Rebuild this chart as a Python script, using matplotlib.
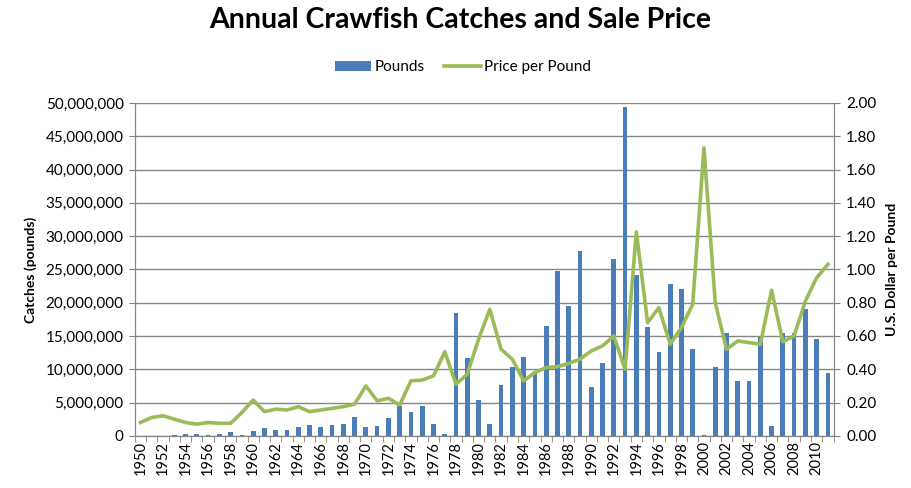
import matplotlib.pyplot as plt
import matplotlib.ticker as mticker
import numpy as np

years = list(range(1950, 2012))

# catches in millions of pounds
pounds_m = [0.0, 0.0, 0.0, 0.05, 0.25, 0.25, 0.05, 0.3, 0.6, 0.05,
            0.7, 1.1, 0.8, 0.9, 1.3, 1.6, 1.3, 1.6, 1.8, 2.8,
            1.3, 1.5, 2.6, 4.4, 3.5, 4.4, 1.8, 0.3, 18.4, 11.7,
            5.4, 1.8, 7.6, 10.4, 11.9, 9.8, 16.5, 24.7, 19.5, 27.8,
            7.4, 10.9, 26.6, 49.4, 24.1, 16.3, 12.6, 22.8, 22.0, 13.1,
            0.1, 10.4, 15.5, 8.3, 8.3, 14.9, 1.5, 15.4, 15.5, 19.0,
            14.5, 9.5]

price = [0.08, 0.11, 0.12, 0.10, 0.08, 0.07, 0.08, 0.075, 0.075, 0.14,
         0.215, 0.145, 0.16, 0.155, 0.175, 0.145, 0.155, 0.165, 0.175, 0.19,
         0.30, 0.21, 0.225, 0.185, 0.33, 0.335, 0.36, 0.505, 0.31, 0.37,
         0.58, 0.76, 0.52, 0.46, 0.33, 0.38, 0.41, 0.415, 0.435, 0.46,
         0.51, 0.54, 0.60, 0.40, 1.225, 0.68, 0.77, 0.55, 0.65, 0.79,
         1.73, 0.80, 0.52, 0.57, 0.56, 0.55, 0.875, 0.565, 0.60, 0.81,
         0.95, 1.03]

pounds = [v * 1e6 for v in pounds_m]
x = np.arange(len(years))

plt.rcParams['font.family'] = ['Lato', 'DejaVu Sans']

fig = plt.figure(figsize=(9.11, 4.88), dpi=100)
ax = fig.add_axes([0.148, 0.107, 0.767, 0.682])
ax2 = ax.twinx()

ax.bar(x, pounds, width=0.42, color='#4a7ebb', label='Pounds', zorder=2)
ax2.plot(x, price, color='#9bbb59', linewidth=2.6, label='Price per Pound', zorder=3)

ax.set_xlim(-0.5, len(years) - 0.5)
ax.set_ylim(0, 50e6)
ax2.set_ylim(0, 2.0)
ax.set_yticks(np.arange(0, 50e6 + 1, 5e6))
ax2.set_yticks(np.arange(0, 2.01, 0.2))
ax.yaxis.set_major_formatter(mticker.FuncFormatter(lambda v, p: '{:,.0f}'.format(v)))
ax2.yaxis.set_major_formatter(mticker.FormatStrFormatter('%.2f'))

ax.set_xticks(x[::2])
ax.set_xticklabels([str(y) for y in years[::2]], rotation=90, fontsize=10.5)
ax.set_xticks(np.arange(-0.5, len(years), 1), minor=True)
ax.tick_params(axis='x', which='major', length=0, pad=4)
ax.tick_params(axis='x', which='minor', length=4, color='#808080')
ax.tick_params(axis='y', length=4, color='#808080', labelsize=11, pad=4)
ax2.tick_params(axis='y', length=4, color='#808080', labelsize=11, pad=5)

ax.grid(axis='y', color='#868686', linewidth=1.0, zorder=0)
ax.set_axisbelow(True)
for a in (ax, ax2):
    a.spines['top'].set_visible(False)
    a.spines['left'].set_color('#868686')
    a.spines['right'].set_color('#868686')
    a.spines['bottom'].set_color('#868686')

ax.set_ylabel('Catches (pounds)', fontsize=10, fontweight='bold', labelpad=6)
ax2.set_ylabel('U.S. Dollar per Pound', fontsize=10, fontweight='bold', labelpad=7)

fig.suptitle('Annual Crawfish Catches and Sale Price', x=0.505, y=0.985,
             fontsize=20.5, fontweight='bold')

h1, l1 = ax.get_legend_handles_labels()
h2, l2 = ax2.get_legend_handles_labels()
fig.legend(h1 + h2, l1 + l2, loc='center', bbox_to_anchor=(0.508, 0.862), ncol=2,
           frameon=False, fontsize=11, handlelength=2.4, handletextpad=0.2,
           columnspacing=1.3)

fig.savefig('out.png', dpi=100)
